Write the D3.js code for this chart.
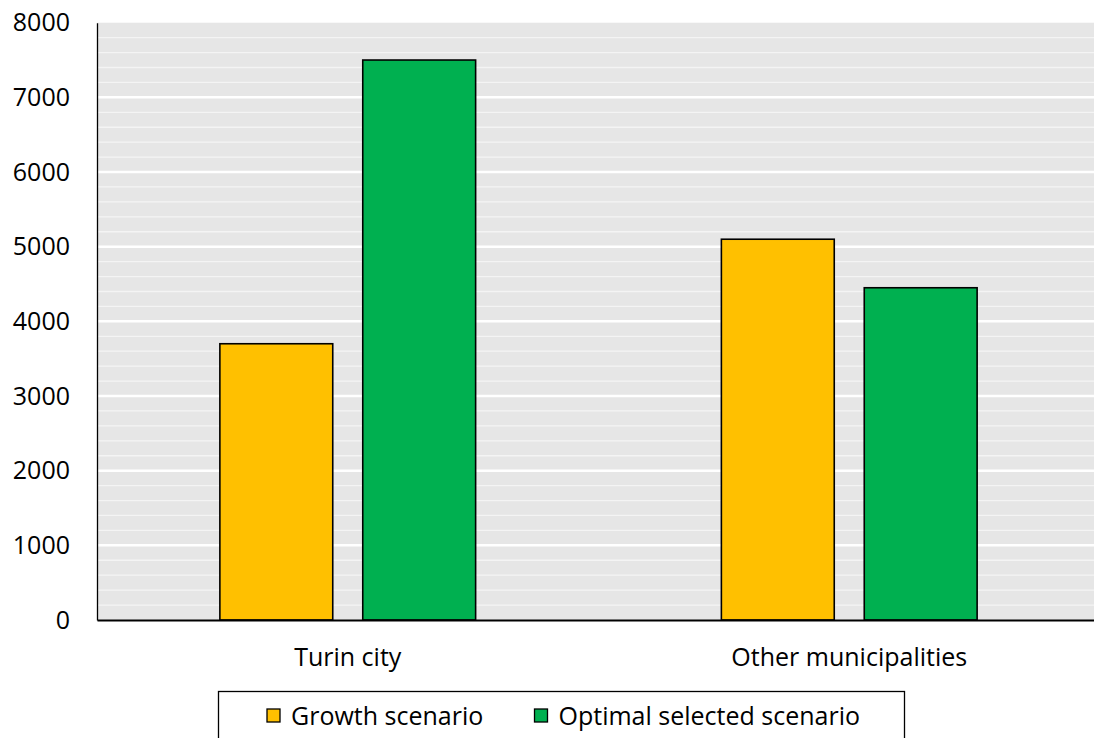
<!DOCTYPE html>
<html>
<head>
<meta charset="utf-8">
<script src="https://cdn.jsdelivr.net/npm/d3@7"></script>
<style>
  body { margin: 0; background: #fff; }
  svg { display: block; font-family: "Open Sans", sans-serif; }
</style>
</head>
<body>
<div id="chart"></div>
<script>
'use strict';

// Data
const categories = ["Turin city", "Other municipalities"];
const seriesNames = ["Growth scenario", "Optimal selected scenario"];
const growthValues = [3700, 5100];
const optimalValues = [7500, 4450];
const yTicks = [0, 1000, 2000, 3000, 4000, 5000, 6000, 7000, 8000];
const colors = ["#ffc000", "#00b050"];

const W = 1094, H = 738;
const plot = {left: 97, right: 1100, top: 22.7, bottom: 620};
const fontSize = 25;

const svg = d3.select("#chart").append("svg")
  .attr("width", W)
  .attr("height", H);

const y = d3.scaleLinear().domain([0, 8000]).range([plot.bottom, plot.top]);
const x0 = d3.scaleBand().domain(categories).range([plot.left, plot.right]);
const x1 = d3.scaleBand().domain(seriesNames)
  .range([0, x0.bandwidth()])
  .paddingInner(0.21)
  .paddingOuter(0.86);

// plot background
svg.append("rect")
  .attr("x", plot.left)
  .attr("y", plot.top)
  .attr("width", plot.right - plot.left)
  .attr("height", plot.bottom - plot.top)
  .attr("fill", "#e6e6e6");

// minor + major gridlines
const minor = d3.range(200, 8000, 200).filter(v => v % 1000 !== 0);
svg.append("g").selectAll("line")
  .data(minor)
  .join("line")
  .attr("x1", plot.left).attr("x2", plot.right)
  .attr("y1", d => y(d)).attr("y2", d => y(d))
  .attr("stroke", "#f4f4f4")
  .attr("stroke-width", 1.3);
svg.append("g").selectAll("line")
  .data(yTicks.filter(v => v > 0 && v < 8000))
  .join("line")
  .attr("x1", plot.left).attr("x2", plot.right)
  .attr("y1", d => y(d)).attr("y2", d => y(d))
  .attr("stroke", "#ffffff")
  .attr("stroke-width", 2.5);

// bars
const rows = categories.map((c, i) => ({cat: c, vals: [growthValues[i], optimalValues[i]]}));
const groups = svg.append("g").selectAll("g")
  .data(rows)
  .join("g")
  .attr("transform", d => `translate(${x0(d.cat)},0)`);
groups.selectAll("rect")
  .data(d => d.vals.map((v, j) => ({name: seriesNames[j], v: v, j: j})))
  .join("rect")
  .attr("x", d => x1(d.name))
  .attr("y", d => y(d.v))
  .attr("width", x1.bandwidth())
  .attr("height", d => y(0) - y(d.v))
  .attr("fill", d => colors[d.j])
  .attr("stroke", "#000")
  .attr("stroke-width", 1.6);

// y axis
const yAxis = svg.append("g")
  .attr("transform", `translate(${plot.left},0)`)
  .call(d3.axisLeft(y).tickValues(yTicks).tickSize(0).tickPadding(27).tickFormat(d3.format("d")))
  .attr("font-family", null)
  .attr("font-size", fontSize);
yAxis.select(".domain").attr("stroke", "#000").attr("stroke-width", 1.3);
yAxis.selectAll("text").attr("fill", "#000");

// x axis
const xAxis = svg.append("g")
  .attr("transform", `translate(0,${plot.bottom})`)
  .call(d3.axisBottom(x0).tickSize(0).tickPadding(28))
  .attr("font-family", null)
  .attr("font-size", fontSize);
xAxis.select(".domain").attr("stroke", "#000").attr("stroke-width", 2.2);
xAxis.selectAll("text").attr("fill", "#000");

// legend
const legend = svg.append("g");
legend.append("rect")
  .attr("x", 218.5).attr("y", 691.5)
  .attr("width", 686).attr("height", 60)
  .attr("fill", "#fff")
  .attr("stroke", "#000")
  .attr("stroke-width", 1.3);
const legendX = [267, 534.5];
const items = legend.selectAll("g.item")
  .data(seriesNames)
  .join("g")
  .attr("class", "item")
  .attr("transform", (d, i) => `translate(${legendX[i]},709)`);
items.append("rect")
  .attr("width", 13).attr("height", 13)
  .attr("fill", (d, i) => colors[i])
  .attr("stroke", "#000")
  .attr("stroke-width", 1.3);
items.append("text")
  .attr("x", 24)
  .attr("y", 15.5)
  .attr("font-size", fontSize)
  .text(d => d);
</script>
</body>
</html>
